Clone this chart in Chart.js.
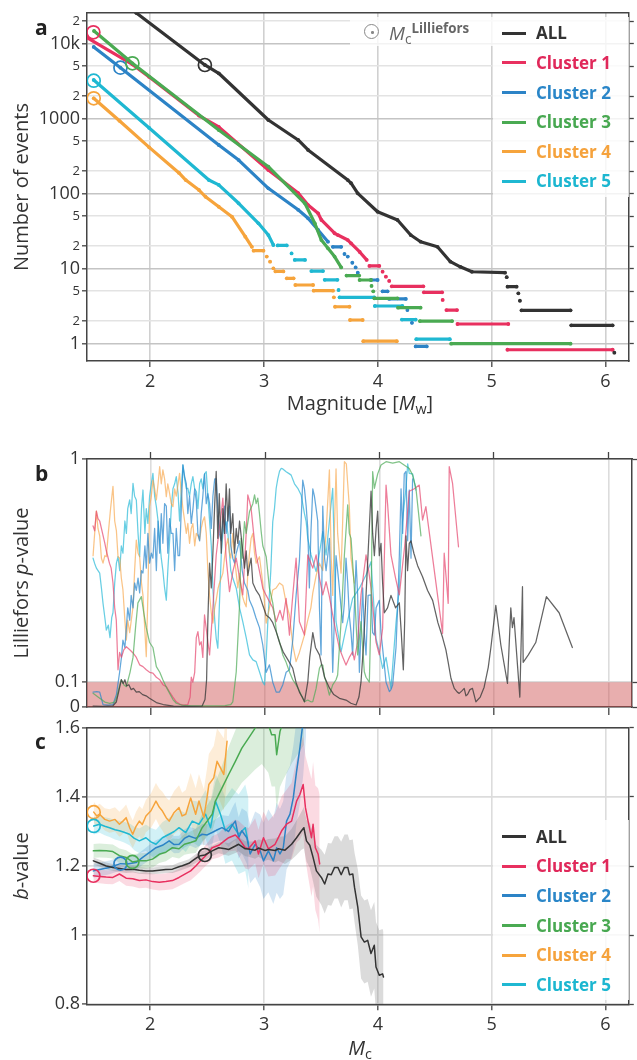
<!DOCTYPE html>
<html><head><meta charset="utf-8">
<script src="https://cdn.jsdelivr.net/npm/chart.js@4.4.1/dist/chart.umd.min.js"></script>
<style>
body{margin:0;background:#fff;font-family:"Open Sans",sans-serif;color:#333;}
#wrap{position:relative;width:637px;height:1060px;overflow:hidden;background:#fff;}
canvas{position:absolute;left:0;}
.t{position:absolute;white-space:nowrap;line-height:1;}
.vt{position:absolute;white-space:nowrap;line-height:1;transform:translate(-50%,-50%) rotate(-90deg);font-size:20px;color:#333;}
.ht{position:absolute;white-space:nowrap;line-height:1;transform:translate(-50%,-50%);font-size:20px;color:#333;}
.sub{font-size:0.72em;position:relative;top:0.3em;}
.sup{font-size:0.7em;position:relative;top:-0.55em;font-weight:700;}
.lbl{position:absolute;font-weight:700;font-size:21px;line-height:1;color:#222;}
.box{position:absolute;background:rgba(255,255,255,0.8);}
.lgt{position:absolute;font-weight:700;font-size:17px;line-height:24px;white-space:nowrap;}
.lgl{position:absolute;height:3px;width:24px;}
</style></head><body>
<div id="wrap">
<canvas id="ca" width="637" height="392" style="top:0px"></canvas>
<canvas id="cb" width="637" height="290" style="top:430px"></canvas>
<canvas id="cc" width="637" height="345" style="top:715px"></canvas>
<div class="lbl" style="left:35px;top:17px">a</div>
<div class="lbl" style="left:35px;top:463px">b</div>
<div class="lbl" style="left:35px;top:731px">c</div>
<div class="vt" style="left:21px;top:187px">Number of events</div>
<div class="ht" style="left:360px;top:403px">Magnitude [<i>M</i><span class="sub">w</span>]</div>
<div class="vt" style="left:21px;top:583px">Lilliefors <i>p</i>-value</div>
<div class="vt" style="left:21px;top:866px"><i>b</i>-value</div>
<div class="ht" style="left:360px;top:1048px"><i>M</i><span class="sub">c</span></div>
<div class="box" style="left:350px;top:17px;width:143px;height:29px"></div>
<div style="position:absolute;left:364px;top:24px;width:13px;height:13px;border:1.6px solid #888;border-radius:50%"></div>
<div style="position:absolute;left:371px;top:31px;width:2.5px;height:2.5px;background:#888;border-radius:50%"></div>
<div class="t" style="left:389px;top:24px;font-size:19px;color:#666"><i>M</i><span class="sub">c</span><span class="sup">Lilliefors</span></div>
</div>
<script>
// ---------------- data ----------------
const X_MIN = 1.444, X_MAX = 6.206;
const xTickValues = [2, 3, 4, 5, 6];
const seriesNames = ['ALL', 'Cluster 1', 'Cluster 2', 'Cluster 3', 'Cluster 4', 'Cluster 5'];

// panel a : cumulative frequency-magnitude, [magnitude, number of events], null = gap
const fmdAll = [[1.50,70000],[1.878,25660],[2.48,5200],[2.602,4030],[3.038,961],[3.30,520],[3.387,383],[3.736,152],[3.765,138],[3.824,101],[3.998,57.5],[4.173,44.6],[4.289,28.1],[4.376,22.9],[4.524,19.6],[4.638,12.4],[4.725,10.6],[4.827,9.1],[5.118,8.85],null,[5.133,7.7],null,[5.14,5.75],[5.22,5.75],null,[5.235,4.7],null,[5.249,3.74],null,[5.263,2.79],[5.694,2.79],null,[5.70,1.76],[6.064,1.76],null,[6.079,0.76]];
const fmdC1 = [[1.444,12000],[1.843,5300],[1.991,3600],[2.428,1100],[2.602,775],[3.038,207],[3.30,102],[3.387,70.6],[3.475,54.8],[3.504,44.6],[3.62,29.7],[3.649,28.1],[3.736,24.1],[3.765,21.8],[3.841,16.7],[3.902,13.1],null,[3.926,10.9],[4.013,10.9],null,[4.042,9.12],null,[4.071,7.82],null,[4.10,6.86],null,[4.123,5.82],[4.40,5.82],null,[4.405,4.84],[4.565,4.84],null,[4.57,3.83],null,[4.603,2.81],[4.696,2.81],null,[4.70,1.83],[5.147,1.83],null,[5.139,0.83],[6.064,0.83]];
const fmdC2 = [[1.503,9040],[1.738,4790],[2.602,446],[2.777,281],[3.038,118],[3.30,61],[3.387,47],[3.475,32.8],[3.562,22.9],null,[3.605,19.6],[3.678,19.6],null,[3.707,15.7],null,[3.736,14.5],null,[3.776,12.0],null,[3.805,10.4],null,[3.824,8.85],null,[3.94,7.07],[3.998,7.07],null,[4.042,5.0],[4.086,5.0],null,[4.10,3.95],[4.246,3.95],null,[4.26,2.81],null,[4.30,1.9],null,[4.333,0.92],[4.43,0.92]];
const fmdC3 = [[1.506,14760],[1.843,5480],[2.602,706],[3.038,229],[3.359,74.5],[3.446,40.3],[3.504,24.1],[3.562,18.7],[3.62,14.5],[3.678,10.4],null,[3.725,8.1],[3.836,8.1],null,[3.84,7.07],[3.94,7.07],null,[3.945,5.9],null,[3.96,5.0],null,[3.969,4.03],[4.173,4.03],null,[4.178,3.02],[4.376,3.02],null,[4.37,2.0],[4.653,2.0],null,[4.645,1.0],[5.694,1.0]];
const fmdC4 = [[1.503,1870],[1.729,937],[1.991,414],[2.253,189],[2.312,152],[2.428,112],[2.486,91],[2.602,67],[2.718,49.3],[2.835,26.7],[2.893,19.6],null,[2.908,17.4],[2.995,17.4],null,[3.024,14.5],null,[3.053,12.4],null,[3.082,10.1],null,[3.10,9.2],[3.17,9.2],null,[3.20,7.45],[3.26,7.45],null,[3.275,6.06],[3.431,6.06],null,[3.436,5.1],[3.606,5.1],null,[3.614,4.15],null,[3.624,3.11],[3.751,3.11],null,[3.756,2.07],[3.867,2.07],null,[3.872,1.08],[4.167,1.08]];
const fmdC5 = [[1.503,3280],[1.991,752],[2.515,152],[2.602,131],[2.777,74.5],[2.951,40.3],[3.038,28.1],[3.082,20.7],null,[3.12,20.4],[3.20,20.4],null,[3.242,16],null,[3.27,13.1],[3.36,13.1],null,[3.416,9.3],[3.518,9.3],null,[3.533,7.1],[3.645,7.1],null,[3.655,5.2],null,[3.664,4.15],[3.969,4.15],null,[3.974,3.18],[4.216,3.18],null,[4.212,2.1],[4.333,2.1],null,[4.338,1.15],[4.633,1.15]];
const aTickValues = [1,2,5,10,20,50,100,200,500,1000,2000,5000,10000,20000];
const aTickLabels = ['1','2','5','10','2','5','100','2','5','1000','2','5','10k','2'];
const aMajorTicks = [1,10,100,1000,10000];

// Mc (Lilliefors) markers
const mcMag = [2.48, 1.5, 1.738, 1.843, 1.503, 1.503];
const mcCount = [5200, 14190, 4790, 5480, 1870, 3210];
const mcB = [1.232, 1.172, 1.207, 1.212, 1.356, 1.316];

// panel b : Lilliefors p-value, [Mc, p]
const pAll = [[1.497,0.004],[1.58,0.003],[1.671,0.005],[1.70,0.02],[1.72,0.06],[1.744,0.11],[1.76,0.095],[1.775,0.11],[1.79,0.085],[1.81,0.09],[1.83,0.07],[1.85,0.075],[1.875,0.06],[1.90,0.062],[1.93,0.05],[1.96,0.045],[1.99,0.035],[2.05,0.018],[2.11,0.01],[2.2,0.004],[2.35,0.003],[2.45,0.004],[2.475,0.03],[2.489,0.11],[2.50,0.35],[2.515,0.58],[2.53,0.48],[2.544,0.62],[2.56,0.82],[2.573,0.95],[2.587,0.68],[2.60,0.86],[2.617,0.62],[2.631,0.80],[2.645,0.70],[2.66,0.90],[2.675,0.75],[2.689,0.88],[2.70,0.70],[2.718,0.78],[2.733,0.62],[2.748,0.72],[2.762,0.66],[2.777,0.75],[2.80,0.65],[2.82,0.56],[2.835,0.63],[2.849,0.53],[2.864,0.57],[2.878,0.60],[2.893,0.50],[2.922,0.47],[2.951,0.45],[2.98,0.41],[3.01,0.37],[3.038,0.36],[3.067,0.34],[3.10,0.30],[3.126,0.26],[3.16,0.22],[3.20,0.19],[3.242,0.156],[3.27,0.10],[3.30,0.06],[3.325,0.04],[3.344,0.021],[3.373,0.10],[3.39,0.20],[3.417,0.30],[3.44,0.24],[3.475,0.21],[3.52,0.12],[3.562,0.077],[3.60,0.05],[3.65,0.035],[3.707,0.028],[3.75,0.015],[3.795,0.008],[3.82,0.04],[3.838,0.10],[3.86,0.25],[3.882,0.45],[3.90,0.62],[3.926,0.87],[3.94,0.70],[3.955,0.61],[3.97,0.72],[3.984,0.79],[3.998,0.61],[4.013,0.66],[4.027,0.50],[4.042,0.38],[4.07,0.40],[4.10,0.45],[4.14,0.40],[4.173,0.42],[4.19,0.30],[4.208,0.15],[4.22,0.35],[4.231,0.69],[4.245,0.55],[4.26,0.66],[4.275,0.67],[4.30,0.62],[4.333,0.57],[4.376,0.525],[4.42,0.47],[4.464,0.43],[4.51,0.34],[4.551,0.28],[4.58,0.23],[4.60,0.18],[4.624,0.116],[4.653,0.075],[4.68,0.06],[4.696,0.055],[4.72,0.065],[4.74,0.075],[4.755,0.045],[4.769,0.05],[4.79,0.07],[4.812,0.075],[4.842,0.021],[4.88,0.04],[4.914,0.08],[4.95,0.16],[4.973,0.24],[5.016,0.41],[5.06,0.25],[5.118,0.095],[5.147,0.40],[5.161,0.32],[5.175,0.36],[5.226,0.04],[5.249,0.485],[5.255,0.18],[5.30,0.21],[5.365,0.26],[5.458,0.445],[5.569,0.38],[5.685,0.24]];
const pC1 = [[1.497,0.73],[1.511,0.71],[1.526,0.79],[1.54,0.76],[1.555,0.75],[1.58,0.70],[1.60,0.66],[1.613,0.63],[1.64,0.58],[1.655,0.56],[1.671,0.50],[1.686,0.40],[1.70,0.35],[1.715,0.15],[1.729,0.22],[1.745,0.20],[1.765,0.23],[1.788,0.243],[1.82,0.23],[1.846,0.218],[1.875,0.20],[1.904,0.17],[1.933,0.163],[1.962,0.15],[1.991,0.14],[2.02,0.137],[2.05,0.12],[2.08,0.11],[2.107,0.09],[2.137,0.082],[2.166,0.06],[2.195,0.04],[2.224,0.021],[2.253,0.012],[2.29,0.008],[2.325,0.01],[2.345,0.04],[2.355,0.12],[2.369,0.10],[2.385,0.14],[2.399,0.28],[2.413,0.304],[2.428,0.25],[2.442,0.263],[2.456,0.20],[2.471,0.371],[2.49,0.30],[2.515,0.21],[2.544,0.40],[2.573,0.613],[2.60,0.72],[2.617,0.78],[2.631,0.842],[2.66,0.60],[2.689,0.465],[2.72,0.55],[2.748,0.60],[2.777,0.52],[2.805,0.452],[2.835,0.70],[2.849,0.855],[2.864,0.83],[2.878,0.80],[2.90,0.70],[2.922,0.613],[2.95,0.55],[2.98,0.479],[3.01,0.45],[3.038,0.425],[3.067,0.40],[3.097,0.344],[3.13,0.39],[3.155,0.35],[3.184,0.438],[3.213,0.29],[3.242,0.45],[3.271,0.60],[3.30,0.344],[3.344,0.29],[3.373,0.613],[3.40,0.58],[3.417,0.56],[3.446,0.613],[3.475,0.52],[3.504,0.452],[3.533,0.505],[3.56,0.45],[3.591,0.371],[3.62,0.30],[3.649,0.237],[3.68,0.20],[3.707,0.169],[3.736,0.20],[3.765,0.223],[3.78,0.19],[3.809,0.263],[3.838,0.452],[3.882,0.613],[3.905,0.55],[3.926,0.479],[3.95,0.36],[3.969,0.263],[3.998,0.21],[4.027,0.317],[4.042,0.60],[4.057,0.895],[4.071,0.815],[4.10,0.613],[4.14,0.52],[4.173,0.452],[4.22,0.65],[4.26,0.87],[4.304,0.88],[4.347,0.895],[4.376,0.754],[4.405,0.808],[4.551,0.297],[4.565,0.62],[4.60,0.418],[4.609,0.969],[4.638,0.902],[4.69,0.646]];
const pC2 = [[1.497,0.06],[1.53,0.062],[1.555,0.06],[1.584,0.01],[1.63,0.008],[1.671,0.01],[1.701,0.05],[1.729,0.14],[1.745,0.20],[1.758,0.27],[1.775,0.24],[1.788,0.32],[1.80,0.40],[1.817,0.35],[1.83,0.45],[1.846,0.40],[1.86,0.50],[1.875,0.47],[1.89,0.52],[1.904,0.46],[1.919,0.55],[1.933,0.54],[1.95,0.65],[1.962,0.56],[1.976,0.70],[1.991,0.58],[2.006,0.62],[2.02,0.60],[2.035,0.72],[2.05,0.55],[2.065,0.75],[2.079,0.62],[2.093,0.78],[2.107,0.66],[2.122,0.82],[2.137,0.81],[2.15,0.62],[2.166,0.76],[2.18,0.70],[2.195,0.70],[2.21,0.55],[2.224,0.72],[2.24,0.61],[2.253,0.61],[2.268,0.80],[2.282,0.976],[2.297,0.93],[2.312,0.90],[2.325,0.78],[2.34,0.85],[2.355,0.74],[2.37,0.80],[2.385,0.88],[2.399,0.83],[2.413,0.70],[2.428,0.67],[2.442,0.78],[2.456,0.85],[2.471,0.94],[2.486,0.82],[2.50,0.86],[2.515,0.82],[2.53,0.72],[2.544,0.85],[2.56,0.92],[2.573,0.92],[2.587,0.80],[2.60,0.70],[2.617,0.67],[2.631,0.74],[2.645,0.81],[2.66,0.70],[2.675,0.76],[2.689,0.81],[2.70,0.65],[2.718,0.60],[2.733,0.58],[2.748,0.62],[2.777,0.67],[2.80,0.55],[2.82,0.50],[2.849,0.47],[2.864,0.43],[2.893,0.40],[2.92,0.36],[2.951,0.32],[2.98,0.25],[3.01,0.14],[3.038,0.17],[3.067,0.10],[3.097,0.06],[3.126,0.06],[3.155,0.09],[3.184,0.14],[3.213,0.15],[3.242,0.27],[3.271,0.45],[3.30,0.59],[3.315,0.75],[3.329,0.915],[3.344,0.88],[3.359,0.81],[3.373,0.72],[3.387,0.48],[3.40,0.70],[3.417,0.88],[3.431,0.85],[3.446,0.80],[3.46,0.75],[3.475,0.40],[3.489,0.21],[3.504,0.81],[3.52,0.60],[3.533,0.55],[3.55,0.62],[3.562,0.68],[3.578,0.40],[3.591,0.14],[3.605,0.35],[3.62,0.61],[3.634,0.55],[3.649,0.48],[3.664,0.40],[3.678,0.34],[3.693,0.42],[3.707,0.60],[3.722,0.50],[3.736,0.37],[3.751,0.30],[3.765,0.21],[3.78,0.40],[3.795,0.59],[3.809,0.45],[3.824,0.14],[3.838,0.30],[3.853,0.48],[3.867,0.30],[3.882,0.21],[3.90,0.45],[3.926,0.452],[3.94,0.30],[3.955,0.29],[3.97,0.40],[3.998,0.43],[4.013,0.30],[4.042,0.169],[4.057,0.10],[4.086,0.062],[4.10,0.07],[4.115,0.09],[4.144,0.24],[4.158,0.40],[4.173,0.61],[4.188,0.88],[4.202,0.70],[4.216,0.94],[4.231,0.95],[4.246,0.67],[4.26,0.875],[4.275,0.60],[4.289,0.92]];
const pC3 = [[1.497,0.055],[1.555,0.035],[1.60,0.02],[1.642,0.015],[1.686,0.02],[1.701,0.035],[1.72,0.07],[1.744,0.11],[1.765,0.09],[1.788,0.082],[1.82,0.14],[1.846,0.20],[1.87,0.33],[1.889,0.42],[1.919,0.445],[1.94,0.38],[1.962,0.32],[1.991,0.26],[2.02,0.24],[2.05,0.163],[2.08,0.14],[2.107,0.11],[2.137,0.08],[2.166,0.055],[2.195,0.03],[2.224,0.015],[2.27,0.008],[2.35,0.005],[2.45,0.005],[2.55,0.005],[2.65,0.006],[2.70,0.01],[2.718,0.021],[2.748,0.142],[2.765,0.30],[2.777,0.411],[2.791,0.68],[2.80,0.60],[2.82,0.747],[2.835,0.70],[2.864,0.788],[2.893,0.82],[2.908,0.855],[2.922,0.82],[2.936,0.842],[2.951,0.78],[2.966,0.707],[2.98,0.65],[3.01,0.606],[3.038,0.479],[3.067,0.42],[3.082,0.371],[3.10,0.30],[3.126,0.263],[3.155,0.21],[3.184,0.18],[3.213,0.142],[3.242,0.11],[3.271,0.089],[3.30,0.065],[3.315,0.048],[3.344,0.021],[3.373,0.028],[3.40,0.021],[3.417,0.022],[3.446,0.075],[3.475,0.156],[3.49,0.17],[3.504,0.169],[3.52,0.12],[3.533,0.102],[3.562,0.048],[3.591,0.089],[3.62,0.11],[3.634,0.129],[3.664,0.344],[3.693,0.613],[3.722,0.815],[3.736,0.70],[3.751,0.68],[3.78,0.479],[3.809,0.21],[3.838,0.344],[3.867,0.142],[3.882,0.12],[3.911,0.10],[3.926,0.40],[3.94,0.949],[3.955,0.882],[3.984,0.94],[4.013,0.976],[4.057,0.989],[4.115,0.983],[4.173,0.989],[4.26,0.962],[4.289,0.935],[4.318,0.882],[4.362,0.69]];
const pC4 = [[1.497,0.61],[1.511,0.70],[1.526,0.79],[1.54,0.72],[1.555,0.69],[1.57,0.60],[1.584,0.58],[1.60,0.61],[1.613,0.606],[1.63,0.70],[1.65,0.80],[1.671,0.89],[1.686,0.75],[1.701,0.71],[1.715,0.606],[1.73,0.60],[1.744,0.52],[1.758,0.472],[1.775,0.35],[1.788,0.27],[1.80,0.35],[1.817,0.30],[1.846,0.404],[1.86,0.55],[1.875,0.673],[1.89,0.62],[1.904,0.606],[1.92,0.50],[1.933,0.45],[1.962,0.203],[1.976,0.45],[1.991,0.808],[2.006,0.85],[2.02,0.915],[2.035,0.88],[2.05,0.835],[2.065,0.90],[2.079,0.969],[2.093,0.90],[2.107,0.956],[2.122,0.92],[2.137,0.848],[2.15,0.90],[2.166,0.86],[2.18,0.82],[2.195,0.808],[2.21,0.88],[2.224,0.85],[2.24,0.90],[2.253,0.942],[2.27,0.85],[2.282,0.80],[2.297,0.75],[2.312,0.70],[2.325,0.74],[2.34,0.66],[2.355,0.72],[2.369,0.74],[2.385,0.65],[2.399,0.70],[2.413,0.69],[2.428,0.673],[2.442,0.72],[2.456,0.75],[2.471,0.767],[2.486,0.70],[2.50,0.55],[2.515,0.45],[2.53,0.38],[2.544,0.338],[2.56,0.40],[2.573,0.431],[2.59,0.48],[2.602,0.50],[2.617,0.52],[2.631,0.539],[2.645,0.60],[2.66,0.65],[2.675,0.68],[2.689,0.62],[2.70,0.60],[2.718,0.70],[2.733,0.60],[2.748,0.539],[2.762,0.48],[2.777,0.539],[2.80,0.45],[2.82,0.42],[2.835,0.404],[2.85,0.55],[2.864,0.62],[2.878,0.68],[2.893,0.70],[2.908,0.62],[2.922,0.58],[2.951,0.606],[2.98,0.50],[3.01,0.338],[3.038,0.40],[3.067,0.472],[3.097,0.48],[3.126,0.50],[3.155,0.49],[3.184,0.42],[3.213,0.37],[3.242,0.25],[3.271,0.183],[3.30,0.22],[3.344,0.29],[3.373,0.35],[3.40,0.40],[3.417,0.46],[3.446,0.53],[3.475,0.58],[3.504,0.55],[3.533,0.70],[3.562,0.956],[3.578,0.60],[3.591,0.45],[3.605,0.70],[3.62,0.96],[3.634,0.70],[3.664,0.54],[3.678,0.75],[3.693,0.989],[3.71,0.98],[3.722,0.90],[3.736,0.81],[3.751,0.60],[3.78,0.50]];
const pC5 = [[1.497,0.60],[1.51,0.58],[1.526,0.56],[1.555,0.54],[1.57,0.48],[1.584,0.418],[1.60,0.36],[1.613,0.31],[1.63,0.33],[1.645,0.28],[1.66,0.36],[1.671,0.38],[1.686,0.50],[1.701,0.58],[1.715,0.606],[1.73,0.55],[1.744,0.65],[1.758,0.62],[1.775,0.75],[1.788,0.70],[1.80,0.80],[1.817,0.835],[1.83,0.78],[1.846,0.902],[1.86,0.85],[1.875,0.835],[1.89,0.70],[1.904,0.606],[1.92,0.80],[1.933,0.875],[1.95,0.70],[1.962,0.80],[1.976,0.74],[1.991,0.85],[2.006,0.90],[2.02,0.942],[2.035,0.85],[2.05,0.808],[2.065,0.75],[2.079,0.673],[2.093,0.60],[2.107,0.55],[2.122,0.48],[2.137,0.431],[2.15,0.55],[2.166,0.673],[2.18,0.80],[2.195,0.88],[2.21,0.90],[2.224,0.929],[2.24,0.86],[2.253,0.75],[2.268,0.88],[2.282,0.976],[2.297,0.92],[2.312,0.88],[2.325,0.882],[2.34,0.85],[2.355,0.90],[2.369,0.929],[2.385,0.88],[2.40,0.868],[2.413,0.80],[2.428,0.90],[2.442,0.92],[2.456,0.88],[2.471,0.94],[2.486,0.949],[2.50,0.85],[2.515,0.75],[2.53,0.65],[2.544,0.479],[2.56,0.35],[2.573,0.277],[2.587,0.237],[2.60,0.40],[2.617,0.613],[2.631,0.70],[2.645,0.73],[2.66,0.747],[2.675,0.70],[2.689,0.62],[2.70,0.55],[2.718,0.52],[2.748,0.479],[2.777,0.40],[2.805,0.344],[2.835,0.28],[2.864,0.21],[2.893,0.19],[2.922,0.183],[2.951,0.142],[2.98,0.10],[2.995,0.089],[3.01,0.20],[3.024,0.344],[3.05,0.55],[3.067,0.747],[3.082,0.80],[3.097,0.882],[3.111,0.92],[3.126,0.95],[3.14,0.962],[3.155,0.96],[3.184,0.949],[3.213,0.94],[3.228,0.935],[3.257,0.90],[3.286,0.882],[3.315,0.855],[3.344,0.78],[3.359,0.747],[3.373,0.68],[3.402,0.613],[3.446,0.546],[3.475,0.62],[3.504,0.707],[3.533,0.613],[3.562,0.75],[3.591,0.882],[3.62,0.344],[3.664,0.223],[3.707,0.317],[3.765,0.438],[3.824,0.479],[3.882,0.532],[3.926,0.586],[3.969,0.277],[3.998,0.223],[4.027,0.156],[4.057,0.20],[4.10,0.075],[4.144,0.34],[4.173,0.48],[4.20,0.747],[4.231,0.882],[4.246,0.98],[4.26,0.942],[4.289,0.94],[4.318,0.875]];
const pThreshold = 0.1;
const pTickValues = [0, 0.1, 1];
const pTickLabels = ['0', '0.1', '1'];

// panel c : b-value, [Mc, b, uncertainty]
const bAll = [[1.50,1.215,0.01],[1.555,1.208,0.01],[1.613,1.20,0.01],[1.671,1.196,0.01],[1.729,1.193,0.01],[1.788,1.19,0.01],[1.846,1.191,0.01],[1.904,1.188,0.01],[1.962,1.186,0.01],[2.02,1.186,0.01],[2.079,1.188,0.01],[2.137,1.19,0.01],[2.195,1.191,0.011],[2.253,1.198,0.012],[2.282,1.201,0.012],[2.34,1.208,0.012],[2.369,1.215,0.012],[2.413,1.225,0.013],[2.442,1.23,0.013],[2.48,1.232,0.014],[2.544,1.244,0.015],[2.602,1.253,0.016],[2.66,1.25,0.018],[2.689,1.248,0.018],[2.748,1.258,0.02],[2.777,1.263,0.02],[2.835,1.25,0.022],[2.864,1.249,0.022],[2.922,1.246,0.025],[2.951,1.252,0.025],[3.01,1.245,0.03],[3.038,1.248,0.03],[3.097,1.245,0.035],[3.126,1.25,0.035],[3.184,1.246,0.04],[3.242,1.263,0.045],[3.286,1.282,0.05],[3.329,1.302,0.055],[3.35,1.311,0.06],[3.373,1.273,0.06],[3.402,1.26,0.065],[3.431,1.225,0.07],[3.46,1.186,0.075],[3.504,1.167,0.08],[3.533,1.148,0.085],[3.562,1.177,0.09],[3.591,1.175,0.09],[3.62,1.196,0.09],[3.649,1.196,0.09],[3.678,1.175,0.095],[3.707,1.196,0.095],[3.736,1.196,0.095],[3.751,1.175,0.1],[3.78,1.177,0.1],[3.795,1.139,0.1],[3.824,1.081,0.11],[3.853,0.995,0.12],[3.882,0.98,0.12],[3.911,0.985,0.12],[3.94,0.947,0.125],[3.969,0.971,0.125],[3.984,0.908,0.13],[4.013,0.884,0.13],[4.042,0.888,0.13],[4.05,0.879,0.13]];
const bC1 = [[1.50,1.172,0.02],[1.555,1.17,0.02],[1.613,1.168,0.02],[1.671,1.167,0.02],[1.729,1.177,0.02],[1.788,1.165,0.022],[1.846,1.163,0.022],[1.904,1.158,0.022],[1.962,1.16,0.023],[2.02,1.155,0.023],[2.079,1.153,0.024],[2.137,1.155,0.024],[2.195,1.158,0.025],[2.253,1.167,0.025],[2.30,1.176,0.026],[2.355,1.186,0.027],[2.40,1.20,0.028],[2.442,1.215,0.03],[2.486,1.23,0.03],[2.515,1.24,0.032],[2.544,1.253,0.033],[2.602,1.26,0.035],[2.66,1.275,0.04],[2.689,1.282,0.04],[2.748,1.29,0.045],[2.777,1.28,0.05],[2.835,1.253,0.06],[2.864,1.25,0.06],[2.922,1.273,0.065],[2.951,1.235,0.07],[2.995,1.282,0.075],[3.038,1.25,0.08],[3.097,1.263,0.09],[3.155,1.302,0.1],[3.198,1.321,0.1],[3.242,1.33,0.11],[3.286,1.388,0.12],[3.315,1.407,0.13],[3.344,1.436,0.14],[3.364,1.369,0.15],[3.387,1.33,0.16],[3.417,1.282,0.17],[3.431,1.321,0.18],[3.451,1.253,0.18],[3.475,1.235,0.19],[3.489,1.206,0.2]];
const bC2 = [[1.50,1.186,0.02],[1.555,1.19,0.02],[1.642,1.196,0.02],[1.738,1.207,0.02],[1.80,1.206,0.02],[1.875,1.21,0.021],[1.933,1.225,0.021],[1.991,1.239,0.022],[2.05,1.253,0.022],[2.107,1.26,0.023],[2.166,1.273,0.024],[2.21,1.262,0.025],[2.253,1.263,0.025],[2.30,1.28,0.026],[2.34,1.287,0.027],[2.40,1.28,0.028],[2.456,1.292,0.03],[2.50,1.29,0.031],[2.544,1.297,0.032],[2.59,1.305,0.034],[2.631,1.311,0.036],[2.689,1.30,0.045],[2.72,1.318,0.05],[2.748,1.33,0.055],[2.777,1.282,0.06],[2.805,1.302,0.065],[2.849,1.282,0.075],[2.878,1.235,0.085],[2.922,1.263,0.095],[2.966,1.244,0.105],[2.995,1.215,0.11],[3.038,1.244,0.12],[3.082,1.215,0.125],[3.111,1.253,0.13],[3.14,1.235,0.13],[3.169,1.253,0.135],[3.198,1.33,0.14],[3.228,1.35,0.14],[3.257,1.397,0.15],[3.286,1.474,0.15],[3.315,1.541,0.16],[3.344,1.62,0.16],[3.37,1.75,0.17]];
const bC3 = [[1.50,1.244,0.02],[1.555,1.245,0.02],[1.613,1.244,0.02],[1.671,1.242,0.02],[1.729,1.23,0.021],[1.788,1.225,0.021],[1.843,1.212,0.022],[1.904,1.215,0.022],[1.962,1.215,0.023],[2.02,1.22,0.024],[2.079,1.234,0.025],[2.137,1.24,0.026],[2.195,1.253,0.027],[2.253,1.25,0.028],[2.30,1.263,0.03],[2.355,1.268,0.032],[2.40,1.273,0.035],[2.456,1.311,0.04],[2.50,1.33,0.045],[2.544,1.35,0.05],[2.573,1.388,0.055],[2.631,1.426,0.065],[2.689,1.465,0.08],[2.748,1.503,0.09],[2.805,1.541,0.1],[2.864,1.57,0.11],[2.922,1.599,0.12],[2.98,1.625,0.13],[3.038,1.61,0.14],[3.067,1.58,0.15],[3.097,1.58,0.15],[3.111,1.522,0.16],[3.14,1.589,0.16],[3.169,1.62,0.17],[3.25,1.68,0.18],[3.35,1.75,0.2]];
const bC4 = [[1.503,1.356,0.03],[1.53,1.345,0.03],[1.555,1.35,0.03],[1.60,1.335,0.032],[1.642,1.33,0.034],[1.69,1.335,0.035],[1.729,1.321,0.036],[1.76,1.33,0.037],[1.788,1.34,0.038],[1.82,1.31,0.04],[1.846,1.292,0.04],[1.875,1.315,0.042],[1.904,1.33,0.044],[1.93,1.32,0.045],[1.962,1.345,0.047],[2.006,1.36,0.05],[2.05,1.388,0.052],[2.08,1.37,0.054],[2.107,1.359,0.056],[2.14,1.34,0.058],[2.166,1.33,0.06],[2.21,1.355,0.062],[2.253,1.369,0.065],[2.28,1.345,0.067],[2.312,1.35,0.07],[2.355,1.397,0.072],[2.399,1.35,0.075],[2.428,1.388,0.078],[2.471,1.34,0.082],[2.50,1.40,0.085],[2.515,1.436,0.088],[2.558,1.455,0.092],[2.587,1.503,0.095],[2.617,1.484,0.1],[2.646,1.465,0.105],[2.675,1.561,0.11]];
const bC5 = [[1.503,1.316,0.025],[1.555,1.321,0.025],[1.60,1.315,0.026],[1.642,1.311,0.027],[1.69,1.305,0.028],[1.729,1.302,0.029],[1.77,1.298,0.03],[1.817,1.292,0.032],[1.86,1.28,0.034],[1.904,1.273,0.036],[1.962,1.282,0.038],[2.006,1.27,0.04],[2.05,1.263,0.042],[2.107,1.282,0.045],[2.166,1.292,0.048],[2.21,1.30,0.05],[2.253,1.311,0.052],[2.312,1.297,0.056],[2.369,1.33,0.06],[2.428,1.321,0.065],[2.486,1.35,0.07],[2.53,1.311,0.075],[2.573,1.388,0.08],[2.617,1.35,0.085],[2.66,1.302,0.095],[2.718,1.321,0.105],[2.777,1.292,0.115],[2.835,1.311,0.125],[2.864,1.263,0.13]];
const bTickValues = [0.8, 1, 1.2, 1.4, 1.6];
const bTickLabels = ['0.8', '1', '1.2', '1.4', '1.6'];

// ---------------- styling ----------------
const seriesColors = ['#333333', '#e8305f', '#2c83c6', '#4aaa52', '#f6a43c', '#1fb8d2'];
const textColors = ['#333333', '#e0285a', '#2a86c8', '#48a851', '#f5a23c', '#1cb6d0'];
const pColors = ['rgba(60,60,60,0.8)', 'rgba(230,70,110,0.7)', 'rgba(40,135,205,0.72)', 'rgba(75,170,85,0.7)', 'rgba(247,165,70,0.65)', 'rgba(40,185,215,0.7)'];
const bandColors = ['rgba(110,110,110,0.25)', 'rgba(232,48,95,0.18)', 'rgba(44,131,198,0.2)', 'rgba(74,170,82,0.2)', 'rgba(246,164,60,0.2)', 'rgba(31,184,210,0.2)'];
const fmdSeries = [fmdAll, fmdC1, fmdC2, fmdC3, fmdC4, fmdC5];
const pSeries = [pAll, pC1, pC2, pC3, pC4, pC5];
const bSeries = [bAll, bC1, bC2, bC3, bC4, bC5];
const drawOrder = [1, 4, 5, 3, 6, 7];

Chart.defaults.font.family = "'Open Sans', sans-serif";
Chart.defaults.color = '#333';
const AX = '#444';
const FRAME_W = 1.5;

function toPoints(arr) {
  const out = []; let lastX = X_MIN;
  for (const p of arr) {
    if (p === null) out.push({x: lastX, y: null});
    else { out.push({x: p[0], y: p[1]}); lastX = p[0]; }
  }
  return out;
}
function fixedTicks(vals) { return s => { s.ticks = vals.map(v => ({value: v})); }; }

function bottomX(tickLen, showLabels, height, gridColor) {
  return {
    type: 'linear', position: 'bottom', min: X_MIN, max: X_MAX,
    afterBuildTicks: fixedTicks(xTickValues),
    afterFit: s => { s.height = height; },
    grid: {color: gridColor, lineWidth: 1.6, tickColor: AX, tickLength: tickLen, tickWidth: 1.3},
    border: {color: AX, width: FRAME_W},
    ticks: {display: showLabels, autoSkip: false, maxRotation: 0, padding: 4, font: {size: 18}, color: '#333'}
  };
}
function topX(tickLen) {
  return {
    type: 'linear', axis: 'x', position: 'top', min: X_MIN, max: X_MAX,
    afterBuildTicks: fixedTicks(xTickValues),
    afterFit: s => { s.height = tickLen; },
    grid: {drawOnChartArea: false, drawTicks: tickLen > 0, tickColor: AX, tickLength: tickLen, tickWidth: 1.3},
    border: {color: AX, width: FRAME_W},
    ticks: {display: false}
  };
}
function leftY(base) {
  return Object.assign({
    position: 'left',
    afterFit: s => { s.width = 87; },
    border: {color: AX, width: FRAME_W},
  }, base);
}
function rightY(base) {
  return Object.assign({
    axis: 'y', position: 'right',
    afterFit: s => { s.width = 5; },
    grid: {drawOnChartArea: false, tickColor: AX, tickLength: 5, tickWidth: 1.3},
    border: {color: AX, width: FRAME_W},
    ticks: {display: false}
  }, base);
}
const commonOpts = {
  responsive: false, animation: false, events: [],
  plugins: {legend: {display: false}, tooltip: {enabled: false}},
  elements: {line: {tension: 0, borderCapStyle: 'round', borderJoinStyle: 'round'}, point: {radius: 0, hoverRadius: 0}}
};

// ---------------- panel a ----------------
const aDatasets = fmdSeries.map((arr, i) => ({
  data: toPoints(arr), borderColor: seriesColors[i], backgroundColor: seriesColors[i],
  borderWidth: 3.2, pointRadius: 1.9, pointBorderWidth: 0, pointBackgroundColor: seriesColors[i],
  spanGaps: false, order: drawOrder[i], fill: false
}));
aDatasets.push({
  data: mcMag.map((m, i) => ({x: m, y: mcCount[i]})), showLine: false, order: 0,
  pointRadius: 6.5, pointBorderWidth: 1.7, pointBorderColor: seriesColors, pointBackgroundColor: 'rgba(0,0,0,0)'
});
new Chart(document.getElementById('ca'), {
  type: 'line', data: {datasets: aDatasets},
  options: Object.assign({}, commonOpts, {
    layout: {padding: {top: 13, left: 0, right: 0, bottom: 0}},
    scales: {
      x: bottomX(6, true, 31, '#d0d0d0'),
      x2: topX(0),
      y: leftY({
        type: 'logarithmic', min: 0.588, max: 25650,
        afterBuildTicks: fixedTicks(aTickValues),
        grid: {color: c => (c.tick && aMajorTicks.includes(c.tick.value)) ? '#c4c4c4' : '#e3e3e3', lineWidth: 1.6, tickColor: AX, tickLength: 5, tickWidth: 1.3},
        ticks: {autoSkip: false, padding: 2, color: '#333', callback: (v, i) => aTickLabels[i],
          font: c => ({size: (c.tick && aMajorTicks.includes(c.tick.value)) ? 18 : 13})}
      }),
      y2: rightY({type: 'logarithmic', min: 0.588, max: 25650, afterBuildTicks: fixedTicks(aTickValues)})
    }
  })
});

// ---------------- panel b ----------------
const bpDatasets = pSeries.map((arr, i) => ({
  data: toPoints(arr), borderColor: pColors[i], borderWidth: 1.25, pointRadius: 0, spanGaps: false, order: drawOrder[i], fill: false
}));
bpDatasets.push({
  data: [{x: X_MIN, y: pThreshold}, {x: X_MAX, y: pThreshold}], borderWidth: 0, pointRadius: 0,
  fill: 'origin', backgroundColor: 'rgba(205,75,75,0.45)', order: 50
});
new Chart(document.getElementById('cb'), {
  type: 'line', data: {datasets: bpDatasets},
  options: Object.assign({}, commonOpts, {
    layout: {padding: {top: 22, left: 0, right: 0, bottom: 0}},
    scales: {
      x: bottomX(8, false, 13, '#dcdcdc'),
      x2: topX(7),
      y: leftY({
        type: 'linear', min: 0, max: 1, afterBuildTicks: fixedTicks(pTickValues),
        grid: {color: '#dcdcdc', lineWidth: 1.8, tickColor: AX, tickLength: 5, tickWidth: 1.3},
        ticks: {autoSkip: false, padding: 2, font: {size: 18}, color: '#333', callback: (v, i) => pTickLabels[i]}
      }),
      y2: rightY({type: 'linear', min: 0, max: 1, afterBuildTicks: fixedTicks(pTickValues)})
    }
  })
});

// ---------------- panel c ----------------
const cDatasets = [];
bSeries.forEach((arr, i) => {
  cDatasets.push({data: arr.map(p => ({x: p[0], y: p[1] - p[2]})), borderWidth: 0, pointRadius: 0, fill: false, order: 20 + i});
  cDatasets.push({data: arr.map(p => ({x: p[0], y: p[1] + p[2]})), borderWidth: 0, pointRadius: 0, fill: '-1', backgroundColor: bandColors[i], order: 20 + i});
});
bSeries.forEach((arr, i) => {
  cDatasets.push({data: arr.map(p => ({x: p[0], y: p[1]})), borderColor: seriesColors[i], borderWidth: 1.5, pointRadius: 0, fill: false, order: drawOrder[i]});
});
cDatasets.push({
  data: mcMag.map((m, i) => ({x: m, y: mcB[i]})), showLine: false, order: 0,
  pointRadius: 6.5, pointBorderWidth: 1.7, pointBorderColor: seriesColors, pointBackgroundColor: 'rgba(0,0,0,0)'
});
new Chart(document.getElementById('cc'), {
  type: 'line', data: {datasets: cDatasets},
  options: Object.assign({}, commonOpts, {
    layout: {padding: {top: 12, left: 0, right: 0, bottom: 0}},
    scales: {
      x: bottomX(6, true, 55.7, '#dcdcdc'),
      x2: topX(0),
      y: leftY({
        type: 'linear', min: 0.8, max: 1.6, afterBuildTicks: fixedTicks(bTickValues),
        grid: {color: '#dcdcdc', lineWidth: 1.8, tickColor: AX, tickLength: 5, tickWidth: 1.3},
        ticks: {autoSkip: false, padding: 2, font: {size: 18}, color: '#333', callback: (v, i) => bTickLabels[i]}
      }),
      y2: rightY({type: 'linear', min: 0.8, max: 1.6, afterBuildTicks: fixedTicks(bTickValues)})
    }
  })
});

// ---------------- legends (HTML text) ----------------
function buildLegend(boxTop, firstY) {
  const wrap = document.getElementById('wrap');
  const box = document.createElement('div');
  box.className = 'box';
  box.style.cssText = `left:493px;top:${boxTop}px;width:136px;height:180px`;
  wrap.appendChild(box);
  seriesNames.forEach((name, i) => {
    const y = firstY + i * 29.6;
    const l = document.createElement('div');
    l.className = 'lgl';
    l.style.cssText = `left:502px;top:${y - 1.5}px;background:${seriesColors[i]}`;
    wrap.appendChild(l);
    const t = document.createElement('div');
    t.className = 'lgt';
    t.style.cssText = `left:536px;top:${y - 12}px;color:${textColors[i]}`;
    t.textContent = name;
    wrap.appendChild(t);
  });
}
buildLegend(17, 33.3);
buildLegend(820, 836.7);
</script>
</body></html>
